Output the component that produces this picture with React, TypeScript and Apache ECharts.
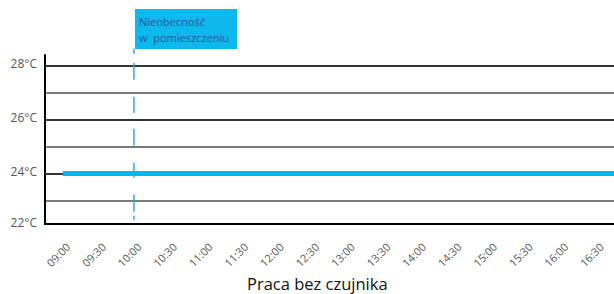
import React, { useEffect, useRef } from "react";
import * as echarts from "echarts";

const times = [
  "09:00", "09:30", "10:00", "10:30", "11:00", "11:30", "12:00", "12:30",
  "13:00", "13:30", "14:00", "14:30", "15:00", "15:30", "16:00", "16:30",
];
const temps = [24, 24, 24, 24, 24, 24, 24, 24, 24, 24, 24, 24, 24, 24, 24, 24];
const darkGridLevels = [24, 26, 28];
const absenceStart = "10:00";
const absenceSpan = [28.63, 22.28];
const absenceLabel = "Nieobecność\nw  pomieszczeniu";
const tickMarkerLevel = 21.91;
const yMin = 22.13;
const yMax = 28.4;
const title = "Praca bez czujnika";

const FONT = "'Open Sans', 'DejaVu Sans', sans-serif";

export default function App() {
  const ref = useRef<HTMLDivElement>(null);
  useEffect(() => {
    if (!ref.current) return;
    const chart = echarts.init(ref.current, null, { renderer: "svg" });
    const xEdge = times.length - 0.5;
    const lineData: number[][] = temps.map((t, i) => [i, t]);
    lineData.push([xEdge, temps[temps.length - 1]]);
    const ai = times.indexOf(absenceStart);

    chart.setOption({
      animation: false,
      backgroundColor: "#ffffff",
      title: {
        text: title,
        left: 242,
        top: 270,
        textStyle: { fontFamily: FONT, fontSize: 16.5, fontWeight: "normal", color: "#111" },
      },
      grid: { left: 45, right: 0, top: 55, bottom: 70, containLabel: false },
      xAxis: [
        {
          type: "category",
          data: times,
          boundaryGap: true,
          axisLine: { lineStyle: { color: "#000", width: 2 } },
          axisTick: { alignWithLabel: true, length: 4, lineStyle: { color: "#666", width: 1 } },
          axisLabel: {
            rotate: 45,
            interval: 0,
            margin: 26,
            align: "center",
            verticalAlign: "middle",
            padding: [0, 13, 12, 0],
            fontFamily: FONT,
            fontSize: 11,
            color: "#555",
          },
          splitLine: { show: false },
        },
        {
          type: "value",
          min: -0.5,
          max: xEdge,
          show: false,
        },
      ],
      yAxis: {
        type: "value",
        min: yMin,
        max: yMax,
        splitNumber: 6,
        axisLine: { show: true, onZero: false, lineStyle: { color: "#000", width: 2 } },
        axisTick: { show: false },
        axisLabel: {
          fontFamily: FONT,
          fontSize: 12,
          color: "#555",
          margin: 8,
          verticalAlign: "bottom",
          lineHeight: 4,
          showMaxLabel: false,
          formatter: (v: number) => {
            const r = Math.round(v);
            return Math.abs(v - r) < 0.2 && r % 2 === 0 ? `${r}°C` : "";
          },
        },
        splitLine: {
          show: true,
          showMinLine: false,
          showMaxLine: false,
          lineStyle: { color: "#7a7a7a", width: 2 },
        },
      },
      series: [
        {
          type: "scatter",
          xAxisIndex: 0,
          z: 1,
          clip: false,
          silent: true,
          symbol: "emptyCircle",
          symbolSize: 4,
          itemStyle: { color: "#fff", borderColor: "#777", borderWidth: 1 },
          data: times.map((t) => [t, tickMarkerLevel]),
          markLine: {
            silent: true,
            z: 1,
            symbol: "none",
            label: { show: false },
            lineStyle: { color: "#333", width: 2, type: "solid" },
            data: darkGridLevels.map((v) => ({ yAxis: v })),
          },
        },
        {
          type: "line",
          xAxisIndex: 1,
          z: 6,
          symbol: "none",
          lineStyle: { color: "#00b7ef", width: 5 },
          data: lineData,
        },
        {
          type: "line",
          xAxisIndex: 1,
          z: 7,
          clip: false,
          symbol: "none",
          lineStyle: {
            color: "#25aee0",
            width: 1.5,
            type: [5, 9, 17, 17, 16, 16, 17, 17, 15, 17, 17, 4, 4, 20],
          },
          data: [[ai, absenceSpan[0]], [ai, absenceSpan[1]]],
        },
      ],
      graphic: [
        {
          type: "group",
          left: 135,
          top: 9,
          children: [
            {
              type: "rect",
              shape: { x: 0, y: 0, width: 102, height: 40 },
              style: { fill: "#0db8ec" },
            },
            {
              type: "text",
              x: 4,
              y: 4,
              style: {
                text: absenceLabel,
                fontFamily: FONT,
                fontSize: 11,
                lineHeight: 16,
                fill: "#1b5c9c",
              },
            },
          ],
        },
      ],
    });
    return () => chart.dispose();
  }, []);
  return (
    <div
      ref={ref}
      style={{ position: "fixed", left: 0, top: 0, width: 614, height: 294 }}
    />
  );
}
